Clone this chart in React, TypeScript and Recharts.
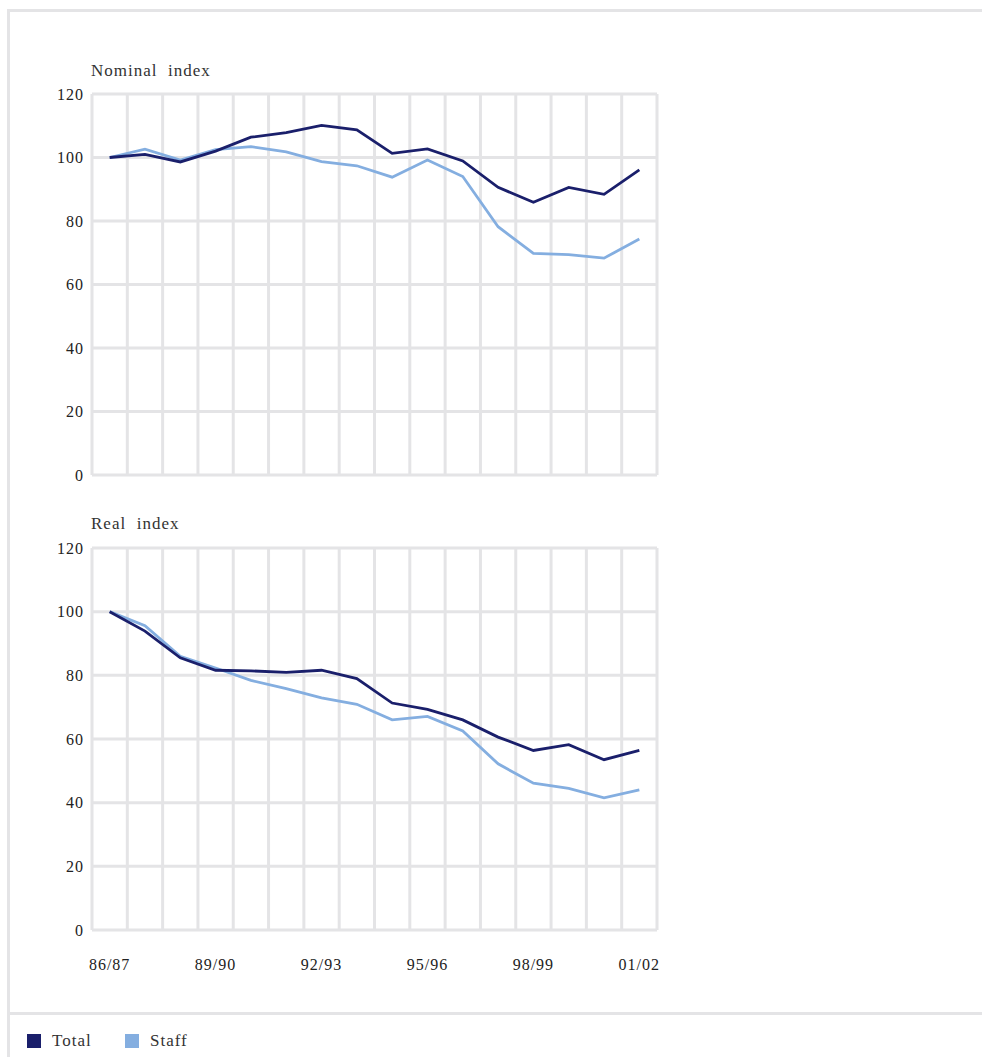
import { CartesianGrid, Line, LineChart, XAxis, YAxis } from "recharts";

const FONT = '"Liberation Serif", "Times New Roman", serif';
const DARK = "#1a1f6b";
const LIGHT = "#84aee0";
const GRID = "#e4e4e6";

const years = [
  "86/87", "87/88", "88/89", "89/90", "90/91", "91/92", "92/93", "93/94",
  "94/95", "95/96", "96/97", "97/98", "98/99", "99/00", "00/01", "01/02",
];
const yTicks = [0, 20, 40, 60, 80, 100, 120];
const seriesNames = ["Total", "Staff"];

const nominalTotal = [100, 101, 98.6, 102, 106.4, 107.8, 110.1, 108.7, 101.3, 102.7, 98.9, 90.6, 85.9, 90.6, 88.4, 96.1];
const nominalStaff = [100, 102.6, 99.2, 102.5, 103.4, 101.8, 98.7, 97.4, 93.8, 99.2, 94.0, 78.2, 69.8, 69.4, 68.3, 74.3];
const realTotal = [100, 93.9, 85.5, 81.6, 81.4, 80.9, 81.6, 79.0, 71.3, 69.3, 66.0, 60.6, 56.4, 58.2, 53.5, 56.4];
const realStaff = [100, 95.6, 86.0, 82.3, 78.4, 75.8, 72.9, 70.9, 66.0, 67.1, 62.5, 52.2, 46.1, 44.5, 41.5, 44.0];

const CHART_W = 667;
const AXIS_W = 92;
const PLOT_W = CHART_W - AXIS_W - 10;
const HALF_BAND = PLOT_W / years.length / 2;

// grid lines sit on the band edges, points in the band centres
const bandEdges = ({ offset }: any) => {
  const left = offset?.left ?? AXIS_W;
  const w = offset?.width ?? PLOT_W;
  return Array.from({ length: years.length + 1 }, (_, i) => left + (i * w) / years.length);
};

const tickStyle = { fill: "#222", fontSize: 16, fontFamily: FONT };

function IndexChart({
  top,
  height,
  total,
  staff,
  showX,
}: {
  top: number;
  height: number;
  total: number[];
  staff: number[];
  showX: boolean;
}) {
  const data = years.map((year, i) => ({ year, total: total[i], staff: staff[i] }));
  return (
    <div style={{ position: "absolute", left: 0, top }}>
      <LineChart
        width={CHART_W}
        height={height}
        data={data}
        margin={{ top: 10, right: 10, bottom: showX ? 0 : 10, left: 0 }}
      >
        <CartesianGrid
          stroke={GRID}
          strokeWidth={3}
          verticalCoordinatesGenerator={bandEdges}
        />
        <XAxis
          dataKey="year"
          hide={!showX}
          height={50}
          interval={2}
          axisLine={false}
          tickLine={false}
          tickSize={0}
          tickMargin={29}
          padding={{ left: HALF_BAND, right: HALF_BAND }}
          tick={tickStyle}
        />
        <YAxis
          width={AXIS_W}
          domain={[0, 120]}
          ticks={yTicks}
          axisLine={false}
          tickLine={false}
          tickSize={0}
          tickMargin={8}
          tick={tickStyle}
        />
        <Line dataKey="staff" stroke={LIGHT} strokeWidth={2.8} dot={false} isAnimationActive={false} />
        <Line dataKey="total" stroke={DARK} strokeWidth={2.8} dot={false} isAnimationActive={false} />
      </LineChart>
    </div>
  );
}

const titleStyle = (top: number) => ({
  position: "absolute" as const,
  left: 91,
  top,
  fontSize: 17,
  lineHeight: "20px",
  whiteSpace: "pre" as const,
  color: "#333",
});

export default function App() {
  return (
    <div
      style={{
        position: "absolute",
        left: 0,
        top: 0,
        width: 982,
        height: 1057,
        overflow: "hidden",
        fontFamily: FONT,
        letterSpacing: "1px",
        background: "#fff",
      }}
    >
      <div
        style={{
          position: "absolute",
          left: 7,
          top: 9,
          width: 990,
          height: 1060,
          borderLeft: `3px solid ${GRID}`,
          borderTop: `3px solid ${GRID}`,
        }}
      />
      <div style={{ position: "absolute", left: 8, top: 1012, width: 990, height: 3, background: GRID }} />

      <div style={titleStyle(61)}>{"Nominal  index"}</div>
      <IndexChart top={84} height={401} total={nominalTotal} staff={nominalStaff} showX={false} />

      <div style={titleStyle(514)}>{"Real  index"}</div>
      <IndexChart top={538} height={442} total={realTotal} staff={realStaff} showX />

      {seriesNames.map((name, i) => (
        <div
          key={name}
          style={{
            position: "absolute",
            left: 27 + i * 98,
            top: 1031,
            display: "flex",
            alignItems: "center",
            fontSize: 17,
            color: "#333",
          }}
        >
          <span style={{ width: 14, height: 14, background: i === 0 ? DARK : LIGHT, marginRight: 11 }} />
          <span>{name}</span>
        </div>
      ))}
    </div>
  );
}
